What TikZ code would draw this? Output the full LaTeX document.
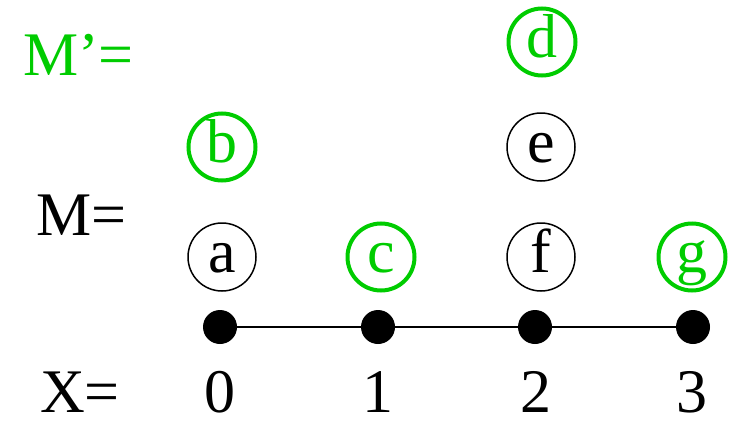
\documentclass[tikz,border=0pt]{standalone}
\usepackage{fontspec}
\setmainfont{Liberation Serif}
\definecolor{mgreen}{RGB}{0,204,0}
\begin{document}
\begin{tikzpicture}[x=1pt,y=-1pt,
  every node/.style={font=\fontsize{62pt}{70pt}\selectfont, inner sep=0pt},
  elem/.style={circle, draw, line width=1.5pt, minimum size=68pt,
    text height=40pt, text depth=9pt},
  newelem/.style={elem, draw=mgreen, text=mgreen, line width=4pt, minimum size=67pt},
  pt/.style={circle, fill=black, minimum size=34pt},
  lbl/.style={anchor=base west}]
\useasboundingbox (0,0) rectangle (742,423);

% labels
\node[lbl, text=mgreen] (lmp) at (23,75) {M’=};
\node[lbl] (lm) at (36,235) {M=};
\node[lbl] (lx) at (40,412) {X=};

% points of X
\node[pt] (p0) at (220,327) {};
\node[pt] (p1) at (378,327) {};
\node[pt] (p2) at (535,327) {};
\node[pt] (p3) at (693,327) {};
\draw[line width=2pt] (p0) -- (p1) -- (p2) -- (p3);

% coordinates
\node[anchor=base] (n0) at (220,412) {0};
\node[anchor=base] (n1) at (378,412) {1};
\node[anchor=base] (n2) at (536,412) {2};
\node[anchor=base] (n3) at (692,412) {3};

% elements of M and M'
\node[elem] (a) at (222,257) {a};
\node[newelem] (b) at (222,147) {b};
\node[newelem] (c) at (381,257) {c};
\node[elem] (f) at (541,257) {f};
\node[elem] (e) at (541,147) {e};
\node[newelem] (d) at (542,42) {d};
\node[newelem] (g) at (692,257) {g};
\end{tikzpicture}
\end{document}
